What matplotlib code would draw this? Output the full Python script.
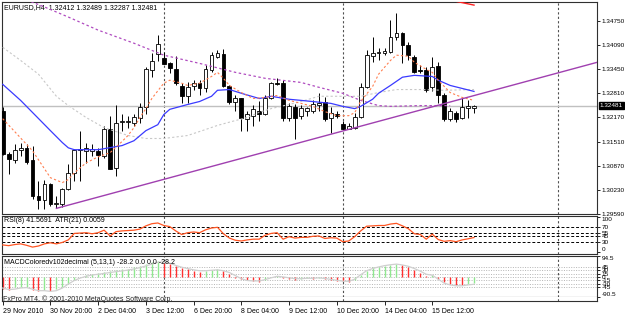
import matplotlib
matplotlib.use("Agg")
import matplotlib.pyplot as plt
import matplotlib.transforms as mtransforms

plt.rcParams['font.family'] = ['Liberation Sans', 'DejaVu Sans']

# ---------------- data ----------------
header_text = "EURUSD,H4  1.32412 1.32489 1.32287 1.32481"
rsi_text = "RSI(8) 41.5691  ATR(21) 0.0059"
macd_text = "MACDColoredv102decimal (5,13,1) -28.2 0.0 0.0 -28.2"
copyright_text = "FxPro MT4, \u00a9 2001-2010 MetaQuotes Software Corp."

opens = [1.32349, 1.31193, 1.31032, 1.31300, 1.31354, 1.31032, 1.30063, 1.29956, 1.30386, 1.29848,
         1.29848, 1.30252, 1.30682, 1.31300, 1.31274, 1.31274, 1.31274, 1.31139, 1.31865, 1.30816,
         1.32053, 1.32053, 1.32026, 1.32161, 1.32430, 1.33425, 1.33855, 1.33747, 1.33613, 1.33452,
         1.32995, 1.32726, 1.32995, 1.33075, 1.32941, 1.33425, 1.33774, 1.33855, 1.32995, 1.32564,
         1.32672, 1.32134, 1.32215, 1.32349, 1.32268, 1.32672, 1.33075, 1.33075, 1.32161, 1.32430,
         1.32215, 1.32349, 1.32349, 1.32484, 1.32564, 1.32161, 1.32268, 1.32000, 1.31865, 1.31892,
         1.32188, 1.32968, 1.33801, 1.33882, 1.33882, 1.33909, 1.34312, 1.34420, 1.34097, 1.33774,
         1.33425, 1.33425, 1.32968, 1.33532, 1.32752, 1.32134, 1.32295, 1.32161, 1.32403, 1.32412]
highs = [1.32430, 1.31247, 1.31462, 1.31489, 1.31462, 1.31408, 1.30467, 1.30494, 1.30413, 1.30063,
         1.30279, 1.30924, 1.31327, 1.31811, 1.31489, 1.31462, 1.31354, 1.31946, 1.32215, 1.32484,
         1.32268, 1.32215, 1.32268, 1.32537, 1.33505, 1.33882, 1.34366, 1.33909, 1.33640, 1.33801,
         1.33075, 1.33102, 1.33156, 1.33156, 1.33559, 1.33909, 1.33963, 1.33989, 1.33021, 1.32752,
         1.32672, 1.32349, 1.32484, 1.32591, 1.32752, 1.33102, 1.33210, 1.33156, 1.32537, 1.32510,
         1.32484, 1.32430, 1.32618, 1.32806, 1.32699, 1.32430, 1.32349, 1.32080, 1.32026, 1.32295,
         1.33075, 1.33963, 1.34312, 1.34016, 1.34016, 1.34769, 1.34957, 1.34447, 1.34178, 1.33828,
         1.33559, 1.33505, 1.33774, 1.33640, 1.32806, 1.32403, 1.32349, 1.32672, 1.32618, 1.32489]
lows = [1.31166, 1.30655, 1.30951, 1.31139, 1.30924, 1.29983, 1.29714, 1.29714, 1.29795, 1.29741,
        1.29768, 1.30225, 1.30467, 1.30467, 1.30951, 1.31139, 1.30870, 1.31085, 1.30790, 1.30601,
        1.31811, 1.31892, 1.31946, 1.32026, 1.32268, 1.33237, 1.33667, 1.33586, 1.33344, 1.33021,
        1.32537, 1.32537, 1.32887, 1.32752, 1.32833, 1.33371, 1.33747, 1.32968, 1.32510, 1.32349,
        1.31811, 1.31811, 1.31946, 1.32080, 1.32242, 1.32645, 1.33021, 1.32080, 1.32080, 1.31596,
        1.32134, 1.32215, 1.32295, 1.32349, 1.32080, 1.31758, 1.32161, 1.31865, 1.31850, 1.31865,
        1.32161, 1.32941, 1.33640, 1.33694, 1.33828, 1.33882, 1.34231, 1.33613, 1.33694, 1.33344,
        1.33344, 1.32833, 1.32860, 1.32537, 1.32080, 1.32080, 1.32053, 1.32134, 1.32161, 1.32287]
closes = [1.31193, 1.31058, 1.31300, 1.31354, 1.30978, 1.30063, 1.29956, 1.30386, 1.29848, 1.29875,
          1.30252, 1.30682, 1.31300, 1.31327, 1.31354, 1.31327, 1.31166, 1.31865, 1.30790, 1.32026,
          1.32080, 1.32080, 1.32188, 1.32430, 1.33452, 1.33667, 1.34124, 1.33586, 1.33479, 1.33075,
          1.32726, 1.32968, 1.33075, 1.32941, 1.33452, 1.33828, 1.33882, 1.32995, 1.32564, 1.32672,
          1.32161, 1.32268, 1.32376, 1.32268, 1.32672, 1.33075, 1.33048, 1.32161, 1.32457, 1.32161,
          1.32403, 1.32403, 1.32510, 1.32537, 1.32134, 1.32295, 1.32215, 1.31865, 1.31946, 1.32188,
          1.32968, 1.33828, 1.33882, 1.33909, 1.33936, 1.34312, 1.34420, 1.34097, 1.33828, 1.33371,
          1.33398, 1.32887, 1.33505, 1.32752, 1.32134, 1.32349, 1.32134, 1.32430, 1.32457, 1.32481]

# moving averages (bar index, price)
ma_blue_bars = [0, 3, 8, 10, 11, 12, 16, 20, 22, 24, 26, 27, 28, 31, 33, 35, 36, 38, 40, 43, 45, 48,
                50, 55, 57, 59, 60, 62, 63, 65, 67, 69, 72, 73, 75, 77, 79]
ma_blue_vals = [1.3305, 1.3262, 1.3181, 1.3149, 1.3135, 1.3130, 1.3130, 1.3141, 1.3154, 1.3181,
                1.3197, 1.3224, 1.3238, 1.3251, 1.3259, 1.3273, 1.3289, 1.3291, 1.3281, 1.3267,
                1.3273, 1.3265, 1.3262, 1.3254, 1.3246, 1.3240, 1.3246, 1.3265, 1.3281, 1.3302,
                1.3324, 1.3329, 1.3326, 1.3316, 1.3302, 1.3294, 1.3286]

ma_orange_bars = [0, 5, 7, 8, 10, 11, 12, 14, 16, 18, 20, 21, 22, 23, 24, 25, 27, 28, 30, 31, 33, 35,
                  36, 37, 38, 40, 42, 44, 46, 48, 50, 52, 54, 56, 58, 59, 60, 62, 63, 65, 66, 68,
                  69, 71, 72, 73, 75, 77, 79]
ma_orange_vals = [1.3213, 1.3127, 1.3079, 1.3055, 1.3042, 1.3050, 1.3068, 1.3095, 1.3111, 1.3122,
                  1.3152, 1.3168, 1.3189, 1.3216, 1.3240, 1.3267, 1.3308, 1.3316, 1.3308, 1.3302,
                  1.3308, 1.3326, 1.3337, 1.3321, 1.3302, 1.3283, 1.3267, 1.3270, 1.3275, 1.3262,
                  1.3254, 1.3246, 1.3232, 1.3221, 1.3221, 1.3229, 1.3259, 1.3299, 1.3332, 1.3369,
                  1.3383, 1.3380, 1.3364, 1.3345, 1.3337, 1.3316, 1.3283, 1.3270, 1.3262]

ma_gray_bars = [0, 3, 6, 9, 11, 14, 17, 21, 24, 27, 31, 34, 36, 39, 41, 43, 45, 48, 50, 53, 57, 60,
                63, 66, 70, 74, 79]
ma_gray_vals = [1.3404, 1.3369, 1.3332, 1.3273, 1.3248, 1.3216, 1.3189, 1.3168, 1.3160, 1.3160,
                1.3168, 1.3184, 1.3195, 1.3208, 1.3216, 1.3230, 1.3240, 1.3251, 1.3259, 1.3273,
                1.3273, 1.3273, 1.3283, 1.3291, 1.3291, 1.3289, 1.3291]

ma_purple_bars = [4, 7, 11, 16, 22, 27, 33, 39, 44, 50, 53, 57, 60, 63, 65, 70, 75]
ma_purple_vals = [1.3531, 1.3512, 1.3485, 1.3450, 1.3415, 1.3383, 1.3361, 1.3337, 1.3321, 1.3310,
                  1.3297, 1.3281, 1.3262, 1.3248, 1.3246, 1.3248, 1.3248]

trend_bars = [9, 57]
trend_vals = [1.2973, 1.3180]

red_bars = [76, 79]
red_vals = [1.3527, 1.3517]

price_ticks = [1.34750, 1.34090, 1.33450, 1.32810, 1.32170, 1.31510, 1.30870, 1.30230, 1.29590]

separator_bars = [27, 57, 93]

time_tick_bars = [0, 8, 16, 24, 32, 40, 48, 56, 64, 72]
time_labels = ["29 Nov 2010", "30 Nov 20:00", "2 Dec 04:00", "3 Dec 12:00", "6 Dec 20:00",
               "8 Dec 04:00", "9 Dec 12:00", "10 Dec 20:00", "14 Dec 04:00", "15 Dec 12:00"]

rsi_vals = [21, 19, 22, 24, 20, 15, 18, 24, 27, 24, 28, 35, 53, 54, 55, 52, 55, 62, 46, 58,
            60, 61, 62, 65, 74, 80, 82, 75, 72, 60, 50, 55, 57, 55, 63, 68, 70, 52, 40, 34,
            32, 35, 37, 37, 48, 53, 55, 37, 44, 40, 42, 42, 45, 46, 39, 41, 40, 30, 32, 44,
            60, 73, 74, 75, 75, 79, 81, 74, 66, 52, 50, 37, 51, 36, 31, 33, 30, 35, 38, 41.5691]
rsi_levels = [70, 55, 45, 30]
rsi_ticks = [100, 70, 55, 45, 30, 0]

macd_vals = [-55, -59, -47, -46, -45, -59, -62, -59, -65, -55, -47, -30, -14, -2, 10, 13, 16, 21, 26, 30,
             34, 38, 43, 50, 58, 66, 72, 65, 57, 48, 41, 36, 28, 24, 28, 30, 34, 28, 12, -5,
             -10, -15, -19, -22, -12, -2, 4, -4, -10, -14, -10, -6, -9, -5, -10, -14, -17, -19, -22, -12,
             8, 28, 43, 47, 51, 55, 58, 52, 43, 31, 20, 6, 9, -10, -24, -32, -36, -38, -31, -28.2]
signal_vals = [-50, -57, -55, -50, -48, -55, -62, -62, -65, -62, -50, -32, -16, -5, 3, 9, 12, 16, 20, 24,
               27, 31, 36, 42, 50, 58, 66, 68, 62, 52, 44, 38, 32, 28, 28, 30, 32, 28, 20, 6,
               -8, -16, -18, -18, -12, -4, 3, 0, -4, -8, -8, -6, -6, -4, -7, -11, -15, -19, -20, -10,
               10, 28, 38, 45, 51, 55, 58, 54, 48, 38, 26, 12, 8, -10, -28, -36, -40, -40, -36, -33]
macd_levels = [45, 30, 15, 0, -15, -30, -45]
macd_ticks = [94.5, 45, 30, 15, 0, -15, -30, -45, -90.5]
macd_range = [-90.5, 94.5]

# ---------------- figure ----------------
W, H = 625, 317
fig = plt.figure(figsize=(W / 100, H / 100), dpi=100)
fig.patch.set_facecolor("white")


def px_axes(x0, y0, x1, y1):
    return fig.add_axes([x0 / W, 1 - y1 / H, (x1 - x0) / W, (y1 - y0) / H])


BAR_PX = 5.966
X_LEFT_PX, X_RIGHT_PX, FIRST_BAR_PX = 2, 597, 2.7
xlim = ((X_LEFT_PX - FIRST_BAR_PX) / BAR_PX, (X_RIGHT_PX - FIRST_BAR_PX) / BAR_PX)
FS = 5.0
FS_AX = 4.6
SPINE = "#303030"
SEP_STYLE = dict(color="#505050", lw=0.8, ls=(0, (2, 2)), zorder=1)


def style_axes(ax):
    ax.set_xlim(*xlim)
    for s in ax.spines.values():
        s.set_color(SPINE)
        s.set_linewidth(0.8)
    ax.set_xticks([])
    ax.yaxis.tick_right()
    ax.tick_params(axis="y", direction="out", length=2.5, width=0.6, pad=0.8,
                   labelsize=FS_AX, colors="black")
    for b in separator_bars:
        ax.axvline(b, **SEP_STYLE)


# main price panel
ax = px_axes(2, 2, 597, 214)
style_axes(ax)
ax.set_ylim(1.29579, 1.35253)
ax.set_yticks(price_ticks)
ax.set_yticklabels([f"{v:.5f}" for v in price_ticks])

n = len(closes)
idx = list(range(n))
ax.axhline(closes[-1], color="#c0c0c0", lw=1.0, zorder=1)
ax.vlines(idx, lows, highs, color="black", lw=0.7, zorder=2)
bottoms = [min(o, c) for o, c in zip(opens, closes)]
heights = [max(abs(c - o), 0.00003) for o, c in zip(opens, closes)]
faces = ["white" if c >= o else "black" for o, c in zip(opens, closes)]
ax.bar(idx, heights, bottom=bottoms, width=0.64, color=faces, edgecolor="black",
       linewidth=0.6, zorder=3)

ax.plot(ma_gray_bars, ma_gray_vals, color="#c8c8c8", lw=0.8, ls=(0, (2, 2)), zorder=4)
ax.plot(ma_purple_bars, ma_purple_vals, color="#b04cc0", lw=0.9, ls=(0, (2, 2)), zorder=4)
ax.plot(ma_blue_bars, ma_blue_vals, color="#3a3aff", lw=0.9, zorder=4)
ax.plot(ma_orange_bars, ma_orange_vals, color="#ff7f50", lw=0.8, ls=(0, (2, 2)), zorder=4)
slope = (trend_vals[1] - trend_vals[0]) / (trend_bars[1] - trend_bars[0])
ax.plot([trend_bars[0], xlim[1]], [trend_vals[0], trend_vals[0] + slope * (xlim[1] - trend_bars[0])],
        color="#a040b0", lw=1.0, zorder=5)
ax.plot(red_bars, red_vals, color="#ff2020", lw=1.0, zorder=5)

ax.text(0.004, 0.976, header_text, transform=ax.transAxes, fontsize=FS, va="center", ha="left")
trans = mtransforms.blended_transform_factory(ax.transAxes, ax.transData)
ax.text(1.0045, closes[-1], f"{closes[-1]:.5f}", transform=trans, fontsize=FS_AX, color="white",
        va="center", ha="left", clip_on=False,
        bbox=dict(boxstyle="square,pad=0.15", fc="black", ec="black"))

# RSI panel
ax_r = px_axes(2, 215.5, 597, 254)
style_axes(ax_r)
ax_r.set_ylim(-4.2, 102.8)
ax_r.plot(idx, rsi_vals, color="#ff5522", lw=0.9, zorder=3)
for lv in rsi_levels:
    ax_r.axhline(lv, color="black", lw=0.7, ls=(0, (3, 2)), zorder=2)
ax_r.set_yticks(rsi_ticks)
ax_r.set_yticklabels([str(v) for v in rsi_ticks])
tl = ax_r.get_yticklabels()
tl[0].set_va("top")
tl[-1].set_va("bottom")
ax_r.text(0.004, 0.86, rsi_text, transform=ax_r.transAxes, fontsize=FS, va="center", ha="left")

# MACD panel
ax_m = px_axes(2, 256, 597, 297)
style_axes(ax_m)
ax_m.set_ylim(*macd_range)
for lv in macd_levels:
    ax_m.axhline(lv, color="#b4b4b4", lw=0.7, ls=(0, (1, 1.5)), zorder=1)
mcolors = ["#ff3030"] + ["#90e890" if macd_vals[i] > macd_vals[i - 1] else "#ff3030"
                         for i in range(1, n)]
ax_m.vlines(idx, 0, macd_vals, colors=mcolors, lw=1.0, zorder=2)
ax_m.plot(idx, signal_vals, color="#cfcfcf", lw=0.9, zorder=3)
ax_m.set_yticks(macd_ticks)
ax_m.set_yticklabels([f"{v:g}" for v in macd_ticks])
ml = ax_m.get_yticklabels()
ml[0].set_va("top")
ml[-1].set_va("bottom")
ax_m.text(0.004, 0.83, macd_text, transform=ax_m.transAxes, fontsize=FS, va="center", ha="left")

# time axis strip
ax_t = px_axes(2, 297, 597, 301)
ax_t.set_xlim(*xlim)
ax_t.set_yticks([])
ax_t.spines["top"].set_visible(False)
for s in ["left", "right", "bottom"]:
    ax_t.spines[s].set_color(SPINE)
    ax_t.spines[s].set_linewidth(0.8)
for b in separator_bars:
    ax_t.axvline(b, **SEP_STYLE)
ax_t.set_xticks(time_tick_bars)
ax_t.set_xticklabels(time_labels)
ax_t.tick_params(axis="x", direction="out", length=3, width=0.6, pad=2, labelsize=FS)
for lbl in ax_t.get_xticklabels():
    lbl.set_ha("left")
ax_t.text(0.002, 0.5, copyright_text, transform=ax_t.transAxes, fontsize=FS, va="center",
          ha="left", color="#202020", zorder=5)

fig.savefig("out.png", dpi=100, facecolor="white")
